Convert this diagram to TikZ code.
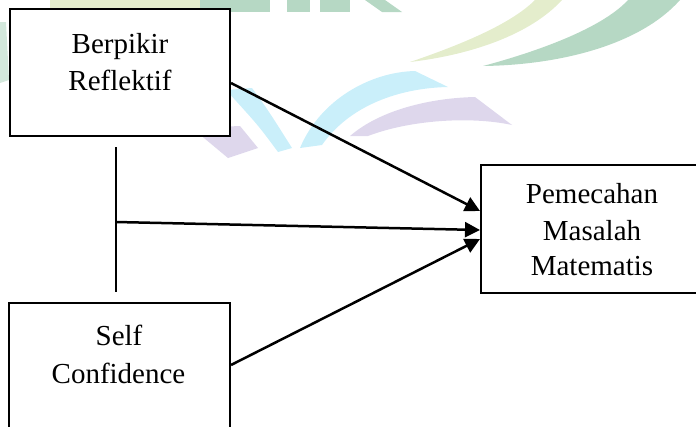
\documentclass[tikz,border=0pt]{standalone}
\usepackage{fontspec}
\setmainfont{Liberation Serif}
\usetikzlibrary{arrows.meta}
\definecolor{wmgreen}{RGB}{182,216,196}
\definecolor{wmyellow}{RGB}{228,237,204}
\definecolor{wmcyan}{RGB}{202,239,250}
\definecolor{wmpurple}{RGB}{222,215,236}
\begin{document}
\begin{tikzpicture}[x=1pt,y=-1pt,
  box/.style={draw=black,line width=2.8pt,fill=white,inner sep=0pt,rectangle},
  lbl/.style={font=\fontsize{29}{36}\selectfont,anchor=base,inner sep=0pt},
  arr/.style={line width=2.5pt,-{Triangle[length=15pt,width=15pt]}},
  thinline/.style={line width=1.3pt}]
\useasboundingbox (0,0) rectangle (696,426);
% faint background watermark
\begin{scope}
\clip (0,0) rectangle (696,426);
\fill[wmyellow] (50,0) rectangle (200,8);
\fill[wmgreen] (200,0) rectangle (270,12);
\fill[wmgreen] (287,0) rectangle (310,12);
\fill[wmgreen] (320,0) rectangle (350,12);
\fill[wmgreen] (365,0) -- (385,0) -- (402,12) -- (382,12) -- cycle;
\fill[wmgreen!60!white] (0,22) -- (6,22) -- (9,80) -- (0,83) -- cycle;
\fill[wmyellow] (562,0) .. controls (530,35) and (470,55) .. (410,62) .. controls (475,40) and (515,20) .. (535,0) -- cycle;
\fill[wmgreen] (680,0) .. controls (640,45) and (560,65) .. (483,66) .. controls (550,48) and (605,25) .. (628,0) -- cycle;
\fill[wmpurple] (192,128) -- (240,126) -- (258,148) -- (228,158) -- cycle;
\fill[wmcyan] (226,90) -- (252,88) .. controls (268,110) .. (292,148) -- (278,152) .. controls (258,125) .. (226,90) -- cycle;
\fill[wmcyan] (300,148) .. controls (320,100) and (370,72) .. (415,71) -- (448,87) .. controls (400,88) and (350,105) .. (322,145) -- cycle;
\fill[wmpurple] (350,136) .. controls (380,110) and (430,98) .. (475,97) -- (512,125) .. controls (470,116) and (410,120) .. (368,136) -- cycle;
\end{scope}
% boxes
\node[box,minimum width=220pt,minimum height=127pt] (b1) at (120,72.5) {};
\node[box,minimum width=221pt,minimum height=138pt] (b2) at (119.5,372) {};
\node[box,minimum width=222pt,minimum height=128pt] (pm) at (592,229) {};
% texts
\node[lbl] (t1a) at (120,53) {Berpikir};
\node[lbl] (t1b) at (120,90) {Reflektif};
\node[lbl] (t2a) at (119,345) {Self};
\node[lbl] (t2b) at (118.5,383) {Confidence};
\node[lbl] (t3a) at (592,203) {Pemecahan};
\node[lbl] (t3b) at (592,240) {Masalah};
\node[lbl] (t3c) at (592,275) {Matematis};
% connector points
\coordinate (vtop) at (116,147);
\coordinate (vbot) at (116,292);
\coordinate (vmid) at (116,222);
\coordinate (s1) at (231,83);
\coordinate (s3) at (231,365);
\coordinate (e1) at (480,211);
\coordinate (e2) at (480,230);
\coordinate (e3) at (480,239);
% connectors
\draw[thinline] (vtop) -- (vbot);
\draw[arr] (s1) -- (e1);
\draw[arr] (vmid) -- (e2);
\draw[arr] (s3) -- (e3);
\end{tikzpicture}
\end{document}
